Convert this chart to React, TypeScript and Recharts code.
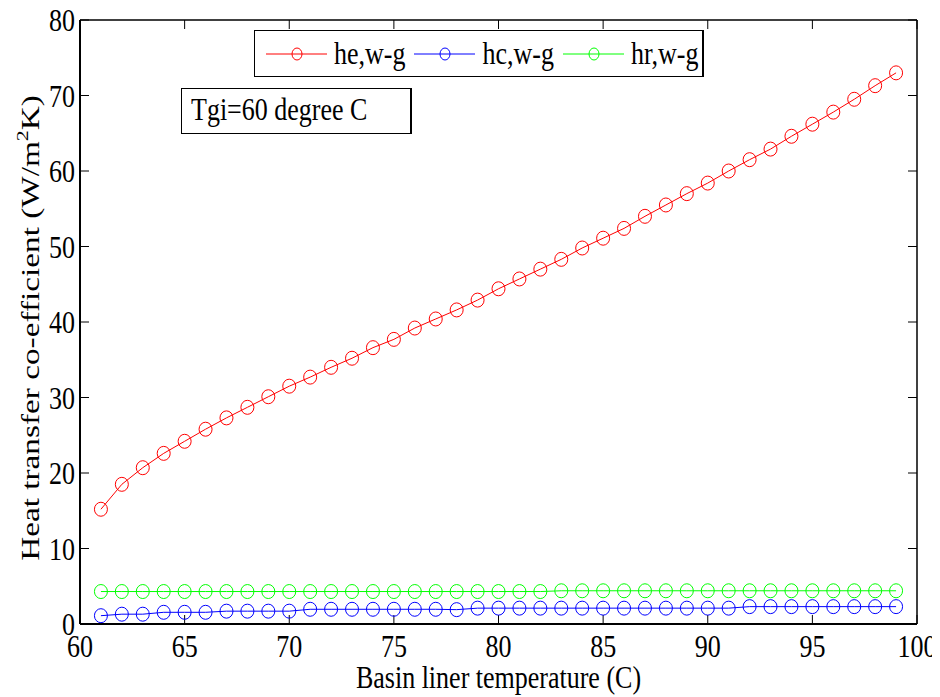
import { LineChart, Line, XAxis, YAxis } from "recharts";

const temps = [
  61, 62, 63, 64, 65, 66, 67, 68, 69, 70, 71, 72, 73, 74, 75, 76, 77, 78, 79, 80,
  81, 82, 83, 84, 85, 86, 87, 88, 89, 90, 91, 92, 93, 94, 95, 96, 97, 98, 99,
];

const heWG = [
  15.2, 18.5, 20.7, 22.6, 24.2, 25.8, 27.3, 28.7, 30.1, 31.5, 32.7, 34.0, 35.2,
  36.6, 37.7, 39.2, 40.4, 41.6, 42.9, 44.4, 45.7, 47.0, 48.3, 49.8, 51.1, 52.4,
  54.0, 55.5, 57.0, 58.4, 60.0, 61.5, 62.9, 64.6, 66.2, 67.8, 69.5, 71.3, 73.0,
];

const hcWG = [
  1.1, 1.3, 1.3, 1.55, 1.55, 1.55, 1.7, 1.7, 1.7, 1.7, 1.95, 1.95, 1.95, 1.95,
  1.95, 1.95, 1.95, 1.9, 2.1, 2.1, 2.1, 2.1, 2.1, 2.1, 2.1, 2.1, 2.1, 2.1, 2.1,
  2.1, 2.1, 2.3, 2.3, 2.3, 2.3, 2.3, 2.3, 2.3, 2.3,
];

const hrWG = [
  4.3, 4.3, 4.3, 4.3, 4.3, 4.3, 4.3, 4.3, 4.3, 4.3, 4.3, 4.3, 4.3, 4.3, 4.3,
  4.3, 4.3, 4.3, 4.3, 4.3, 4.3, 4.3, 4.4, 4.4, 4.4, 4.4, 4.4, 4.4, 4.4, 4.4,
  4.4, 4.4, 4.4, 4.4, 4.4, 4.4, 4.4, 4.4, 4.4,
];

const xTicks = [60, 65, 70, 75, 80, 85, 90, 95, 100];
const yTicks = [0, 10, 20, 30, 40, 50, 60, 70, 80];

const seriesList = [
  { key: "he", name: "he,w-g", color: "#ff0000" },
  { key: "hc", name: "hc,w-g", color: "#0000ff" },
  { key: "hr", name: "hr,w-g", color: "#00ff00" },
];

const FONT = "'Liberation Serif', 'Times New Roman', serif";
// the source figure is stretched vertically, so glyphs are taller than wide
const STRETCH = 1.25;

const data = temps.map((t, i) => ({ t, he: heWG[i], hc: hcWG[i], hr: hrWG[i] }));

function Ring(props: any) {
  const { cx, cy, stroke } = props;
  if (cx == null || cy == null) return <g />;
  return <ellipse cx={cx} cy={cy} rx={6.5} ry={7} fill="none" stroke={stroke} strokeWidth={1} />;
}

function XTick({ x, y, payload }: any) {
  return (
    <text
      transform={`translate(${x},${y}) scale(1,${STRETCH})`}
      textAnchor="middle"
      fontFamily={FONT}
      fontSize={26}
      fill="#000"
    >
      {payload.value}
    </text>
  );
}

function YTick({ x, y, payload }: any) {
  return (
    <text
      transform={`translate(${x},${y}) scale(1,${STRETCH})`}
      textAnchor="end"
      dy="0.34em"
      fontFamily={FONT}
      fontSize={26}
      fill="#000"
    >
      {payload.value}
    </text>
  );
}

function YTitle({ viewBox }: any) {
  const cx = viewBox.x + 19;
  const cy = viewBox.y + viewBox.height / 2 + 6;
  return (
    <text
      transform={`translate(${cx},${cy}) rotate(-90) scale(1.28,1)`}
      textAnchor="middle"
      fontFamily={FONT}
      fontSize={26}
      fill="#000"
    >
      Heat transfer co-efficient (W/m
      <tspan fontSize={17} dy={-11}>2</tspan>
      <tspan dy={11}>K)</tspan>
    </text>
  );
}

function XTitle({ viewBox }: any) {
  return (
    <text
      transform={`translate(${viewBox.x + viewBox.width / 2},${viewBox.y + 64}) scale(1,${STRETCH})`}
      textAnchor="middle"
      fontFamily={FONT}
      fontSize={26}
      fill="#000"
    >
      Basin liner temperature (C)
    </text>
  );
}

const tallText = {
  display: "inline-block",
  transform: `scaleY(${STRETCH})`,
  whiteSpace: "nowrap" as const,
};

export default function App() {
  return (
    <div style={{ position: "relative", width: 932, height: 689, background: "#fff" }}>
      <LineChart
        width={932}
        height={689}
        data={data}
        margin={{ top: 11, right: 22, bottom: 33, left: 12 }}
        style={{ overflow: "visible" }}
      >
        <XAxis
          xAxisId="bottom"
          dataKey="t"
          type="number"
          domain={[60, 100]}
          ticks={xTicks}
          allowDataOverflow
          height={40}
          tick={<XTick />}
          tickSize={-9}
          tickMargin={42}
          axisLine={{ stroke: "#000", strokeWidth: 2 }}
          tickLine={{ stroke: "#000", strokeWidth: 1 }}
          label={<XTitle />}
        />
        <XAxis
          xAxisId="top"
          orientation="top"
          dataKey="t"
          type="number"
          domain={[60, 100]}
          ticks={xTicks}
          allowDataOverflow
          height={1}
          tick={() => <g />}
          tickSize={-9}
          axisLine={{ stroke: "#000", strokeWidth: 1.5 }}
          tickLine={{ stroke: "#000", strokeWidth: 1 }}
        />
        <YAxis
          yAxisId="left"
          domain={[0, 80]}
          ticks={yTicks}
          allowDataOverflow
          width={60}
          tick={<YTick />}
          tickSize={-9}
          tickMargin={14}
          axisLine={{ stroke: "#000", strokeWidth: 2 }}
          tickLine={{ stroke: "#000", strokeWidth: 1 }}
          label={<YTitle />}
        />
        <YAxis
          yAxisId="right"
          orientation="right"
          domain={[0, 80]}
          ticks={yTicks}
          allowDataOverflow
          width={1}
          tick={() => <g />}
          tickSize={-9}
          axisLine={{ stroke: "#000", strokeWidth: 1.5 }}
          tickLine={{ stroke: "#000", strokeWidth: 1 }}
        />
        {seriesList.map((s) => (
          <Line
            key={s.key}
            xAxisId="bottom"
            yAxisId="left"
            dataKey={s.key}
            name={s.name}
            type="linear"
            stroke={s.color}
            strokeWidth={1}
            dot={<Ring />}
            activeDot={false}
            isAnimationActive={false}
          />
        ))}
      </LineChart>

      {/* legend */}
      <div
        style={{
          position: "absolute",
          left: 246,
          top: 22,
          width: 450,
          height: 47,
          boxSizing: "border-box",
          border: "1.5px solid #000",
          borderRightWidth: 2,
          background: "#fff",
          display: "flex",
          alignItems: "center",
          paddingLeft: 11,
          fontFamily: FONT,
          fontSize: 26,
          color: "#000",
        }}
      >
        {seriesList.map((s) => (
          <div
            key={s.key}
            style={{ display: "flex", alignItems: "center", marginRight: 9, flexShrink: 0 }}
          >
            <svg width={62} height={16} style={{ display: "block" }}>
              <line x1={0} y1={8} x2={61} y2={8} stroke={s.color} strokeWidth={1} />
              <ellipse cx={31} cy={8} rx={5} ry={6} fill="none" stroke={s.color} strokeWidth={1} />
            </svg>
            <span style={{ ...tallText, marginLeft: 6, lineHeight: "26px" }}>{s.name}</span>
          </div>
        ))}
      </div>

      {/* annotation */}
      <div
        style={{
          position: "absolute",
          left: 173,
          top: 80,
          width: 231,
          height: 46,
          boxSizing: "border-box",
          border: "1px solid #000",
          borderRightWidth: 2,
          background: "#fff",
          fontFamily: FONT,
          fontSize: 26,
          lineHeight: "42px",
          paddingLeft: 9,
          color: "#000",
        }}
      >
        <span style={tallText}>Tgi=60 degree C</span>
      </div>
    </div>
  );
}
